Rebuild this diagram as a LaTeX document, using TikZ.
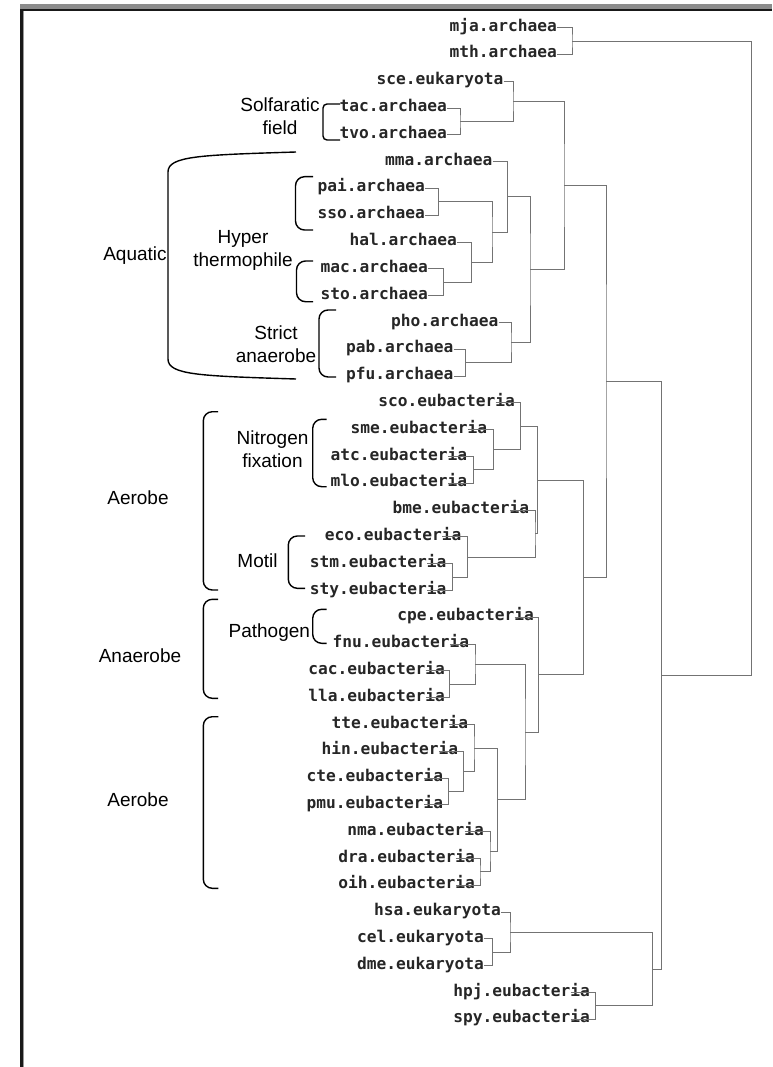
\documentclass[tikz,border=0pt]{standalone}
\usepackage{fontspec}
\setmainfont{Liberation Sans}
\newfontfamily\leaffont{DejaVu Sans Mono}
\usetikzlibrary{calc}

\newcommand{\eubac}{eubacter\rlap{ia}}
% join two subtrees at depth #2
\newcommand{\clade}[4]{%
  \path let \p1=($(#3)!0.5!(#4)$) in (#2pt,\y1) coordinate (#1);
  \draw[branch] (#3) -| (#1) |- (#4);}
\newcommand{\grpbrack}[5][]{%
  \draw[grp,#1] (#5,#3) -- (#2,#3) -- (#2,#4) -- (#5,#4);}

\begin{document}
\begin{tikzpicture}[x=1pt, y=-1pt,
    leaf/.style={anchor=east, inner sep=0pt, text height=7pt, text depth=0pt,
      font=\leaffont\bfseries\fontsize{16.2}{18}\selectfont, text=black!85},
    branch/.style={draw=black!55, line width=0.9pt},
    grp/.style={draw=black, line width=1.4pt, rounded corners=9pt},
    lbl/.style={align=center, inner sep=0pt, font=\fontsize{19}{23}\selectfont}]
  \useasboundingbox (0,0) rectangle (772,1067);
  % page frame
  \fill[black!45] (20,4) rectangle (772,9.3);
  \draw[black!90, line width=2pt] (20,10.3) -- (772,10.3);
  \draw[black!90, line width=2.6pt] (21.3,9.3) -- (21.3,1067);
  \draw[black!40, line width=0.8pt] (23.2,11.3) -- (23.2,1067);

  % leaves
  \foreach \nm/\kd/\xr [count=\i] in {mja/archaea/557, mth/archaea/557,
      sce/eukaryota/503.5, tac/archaea/447, tvo/archaea/447,
      mma/archaea/492.5, pai/archaea/425, sso/archaea/425, hal/archaea/457,
      mac/archaea/428, sto/archaea/428, pho/archaea/498.5, pab/archaea/453.5,
      pfu/archaea/453.5, sco/\eubac/495.5, sme/\eubac/467.8, atc/\eubac/447.8,
      mlo/\eubac/447.8, bme/\eubac/509.8, eco/\eubac/442.2, stm/\eubac/427.2,
      sty/\eubac/427.2, cpe/\eubac/514.5, fnu/\eubac/449.8, cac/\eubac/425.5,
      lla/\eubac/425.5, tte/\eubac/448.8, hin/\eubac/438.8, cte/\eubac/423.8,
      pmu/\eubac/423.8, nma/\eubac/464.5, dra/\eubac/455.5, oih/\eubac/455.5,
      hsa/eukaryota/501, cel/eukaryota/484, dme/eukaryota/484,
      hpj/\eubac/570.5, spy/\eubac/570.5}
    \node[leaf] (\nm) at (\xr, {27.7+(\i-1)*26.8}) {\nm.\kd};

  % tree
  \clade{c1}{572}{mja.east}{mth.east}
  \clade{c2}{460}{tac.east}{tvo.east}
  \clade{c3}{513}{sce.east}{c2}
  \clade{c4}{438.3}{pai.east}{sso.east}
  \clade{c5}{443.3}{mac.east}{sto.east}
  \clade{c6}{471.7}{hal.east}{c5}
  \clade{c7}{492}{c4}{c6}
  \clade{c8}{507.7}{mma.east}{c7}
  \clade{c9}{465.7}{pab.east}{pfu.east}
  \clade{c10}{511}{pho.east}{c9}
  \clade{c11}{530}{c8}{c10}
  \clade{c12}{564}{c3}{c11}
  \clade{c13}{473.3}{atc.east}{mlo.east}
  \clade{c14}{493.3}{sme.east}{c13}
  \clade{c15}{520.7}{sco.east}{c14}
  \clade{c16}{452.7}{stm.east}{sty.east}
  \clade{c17}{467.3}{eco.east}{c16}
  \clade{c18}{535}{bme.east}{c17}
  \clade{c19}{537.7}{c15}{c18}
  \clade{c20}{449.3}{cac.east}{lla.east}
  \clade{c21}{475}{fnu.east}{c20}
  \clade{c22}{448.3}{cte.east}{pmu.east}
  \clade{c23}{463.3}{hin.east}{c22}
  \clade{c24}{474}{tte.east}{c23}
  \clade{c25}{480}{dra.east}{oih.east}
  \clade{c26}{490}{nma.east}{c25}
  \clade{c27}{497.3}{c24}{c26}
  \clade{c28}{525}{c21}{c27}
  \clade{c29}{538.3}{cpe.east}{c28}
  \clade{c30}{583.3}{c19}{c29}
  \clade{c31}{606}{c12}{c30}
  \clade{c32}{492.7}{cel.east}{dme.east}
  \clade{c33}{510}{hsa.east}{c32}
  \clade{c34}{595.7}{hpj.east}{spy.east}
  \clade{c35}{652.3}{c33}{c34}
  \clade{c36}{661.7}{c31}{c35}
  \clade{c37}{751.7}{c1}{c36}

  % groups
  \grpbrack[rounded corners=4pt]{323}{104}{140}{340}
  \draw[grp, rounded corners=0pt] (296,152) .. controls (200,155) and (168,156) .. (168,172)
    -- (168,359) .. controls (168,375) and (200,376) .. (296,379);
  \grpbrack{295.5}{176.7}{230}{313}
  \grpbrack{296.5}{261}{301.7}{313}
  \grpbrack{319}{310}{377}{336}
  \grpbrack{203.3}{411.7}{590}{218}
  \grpbrack{312.7}{419.3}{486.7}{326.7}
  \grpbrack{288.3}{536}{588.3}{305}
  \grpbrack{203.3}{599.3}{698.3}{218}
  \grpbrack{312.7}{609.3}{643.3}{326.7}
  \grpbrack{203.3}{716.7}{888.3}{218.3}

  \node[lbl] (solf) at (280,116) {Solfaratic\\field};
  \node[lbl] (aqua) at (135,256) {Aquatic};
  \node[lbl] (hyper) at (243,250) {Hyper\\thermophile};
  \node[lbl] (strict) at (276,344) {Strict\\anaerobe};
  \node[lbl] (aer1) at (138,498) {Aerobe};
  \node[lbl] (nfix) at (272.5,449) {Nitrogen\\fixation};
  \node[lbl] (motil) at (257.5,561) {Motil};
  \node[lbl] (anaer) at (140,656) {Anaerobe};
  \node[lbl] (patho) at (269.3,633) {Pathogen};
  \node[lbl] (aer2) at (138,800) {Aerobe};
\end{tikzpicture}
\end{document}
